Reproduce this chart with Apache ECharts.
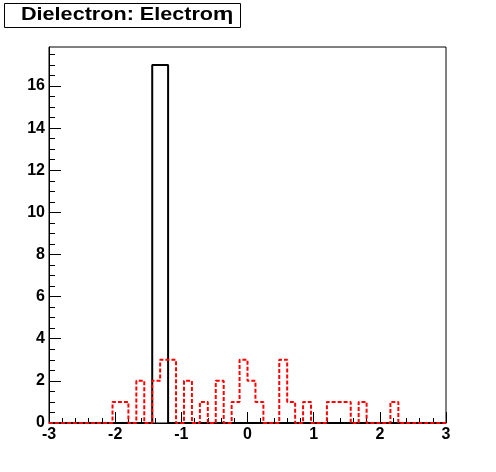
<!DOCTYPE html>
<html>
<head>
<meta charset="utf-8">
<script src="https://cdn.jsdelivr.net/npm/echarts@6/dist/echarts.min.js"></script>
<style>
  html, body { margin: 0; padding: 0; background: #fff; }
  #main { width: 496px; height: 472px; }
</style>
</head>
<body>
<div id="main"></div>
<script>
// histogram binning: 50 bins from -3 to 3
var xMin = -3;
var xMax = 3;
var binWidth = 0.12;

// black histogram (solid)
var blackCounts = [
  0, 0, 0, 0, 0, 0, 0, 0, 0, 0,
  0, 0, 0, 17, 17, 0, 0, 0, 0, 0,
  0, 0, 0, 0, 0, 0, 0, 0, 0, 0,
  0, 0, 0, 0, 0, 0, 0, 0, 0, 0,
  0, 0, 0, 0, 0, 0, 0, 0, 0, 0
];

// red histogram (dashed)
var redCounts = [
  0, 0, 0, 0, 0, 0, 0, 0, 1, 1,
  0, 2, 0, 2, 3, 3, 0, 2, 0, 1,
  0, 2, 0, 1, 3, 2, 1, 0, 0, 3,
  1, 0, 1, 0, 0, 1, 1, 1, 0, 1,
  0, 0, 0, 1, 0, 0, 0, 0, 0, 0
];

var yMajorTicks = [0, 2, 4, 6, 8, 10, 12, 14, 16];
var yMinorTicks = [];
for (var t = 0; t <= 17.5; t += 0.5) yMinorTicks.push(t);

// turn bin contents into step-line points at the bin edges
function toSteps(counts) {
  var pts = counts.map(function (v, i) {
    return [+(xMin + i * binWidth).toFixed(2), v];
  });
  pts.push([xMax, counts[counts.length - 1]]);
  return pts;
}

var labelFont = {
  color: '#000',
  fontFamily: 'Liberation Sans',
  fontWeight: 'bold',
  fontSize: 16
};

var chart = echarts.init(document.getElementById('main'));
chart.setOption({
  animation: false,
  backgroundColor: '#fff',
  grid: {
    left: 49, right: 50, top: 47, bottom: 49,
    show: true, borderColor: '#000', borderWidth: 1,
    containLabel: false
  },
  graphic: [
    {
      type: 'rect',
      shape: { x: 4.5, y: 3.5, width: 236, height: 24 },
      style: { fill: '#fff', stroke: '#000', lineWidth: 1 }
    },
    {
      type: 'text',
      x: 21, y: 15, scaleX: 1.2,
      style: {
        text: 'Dielectron: Electron',
        font: 'bold 18px "Liberation Sans"',
        fill: '#000',
        verticalAlign: 'middle'
      }
    },
    {
      type: 'text',
      x: 220, y: 15, scaleX: 1.2,
      style: {
        text: 'η',
        font: 'bold 18px "Liberation Sans"',
        fill: '#000',
        verticalAlign: 'middle'
      }
    }
  ],
  xAxis: {
    type: 'value',
    min: xMin, max: xMax, interval: 1,
    axisLine: { onZero: false, lineStyle: { color: '#000', width: 1 } },
    axisTick: { inside: true, length: 11, lineStyle: { color: '#000' } },
    minorTick: { show: true, splitNumber: 5, length: 5, lineStyle: { color: '#000' } },
    splitLine: { show: false },
    axisLabel: Object.assign({ margin: 4 }, labelFont)
  },
  yAxis: [
    {
      type: 'value',
      min: 0, max: 17.85,
      axisLine: { show: true, onZero: false, lineStyle: { color: '#000', width: 1 } },
      axisTick: { inside: true, length: 12, customValues: yMajorTicks, lineStyle: { color: '#000' } },
      splitLine: { show: false },
      axisLabel: Object.assign({ margin: 4, customValues: yMajorTicks }, labelFont)
    },
    {
      type: 'value',
      position: 'left',
      min: 0, max: 17.85,
      axisLine: { show: false, onZero: false },
      axisTick: { show: true, inside: true, length: 6, customValues: yMinorTicks, lineStyle: { color: '#000' } },
      splitLine: { show: false },
      axisLabel: { show: false }
    }
  ],
  series: [
    {
      name: 'black',
      type: 'line',
      step: 'end',
      yAxisIndex: 0,
      symbol: 'none',
      data: toSteps(blackCounts),
      lineStyle: { color: '#000', width: 2 }
    },
    {
      name: 'red',
      type: 'line',
      step: 'end',
      yAxisIndex: 0,
      symbol: 'none',
      data: toSteps(redCounts),
      lineStyle: { color: '#ff0000', width: 2, type: [4, 2] }
    }
  ]
});
</script>
</body>
</html>
